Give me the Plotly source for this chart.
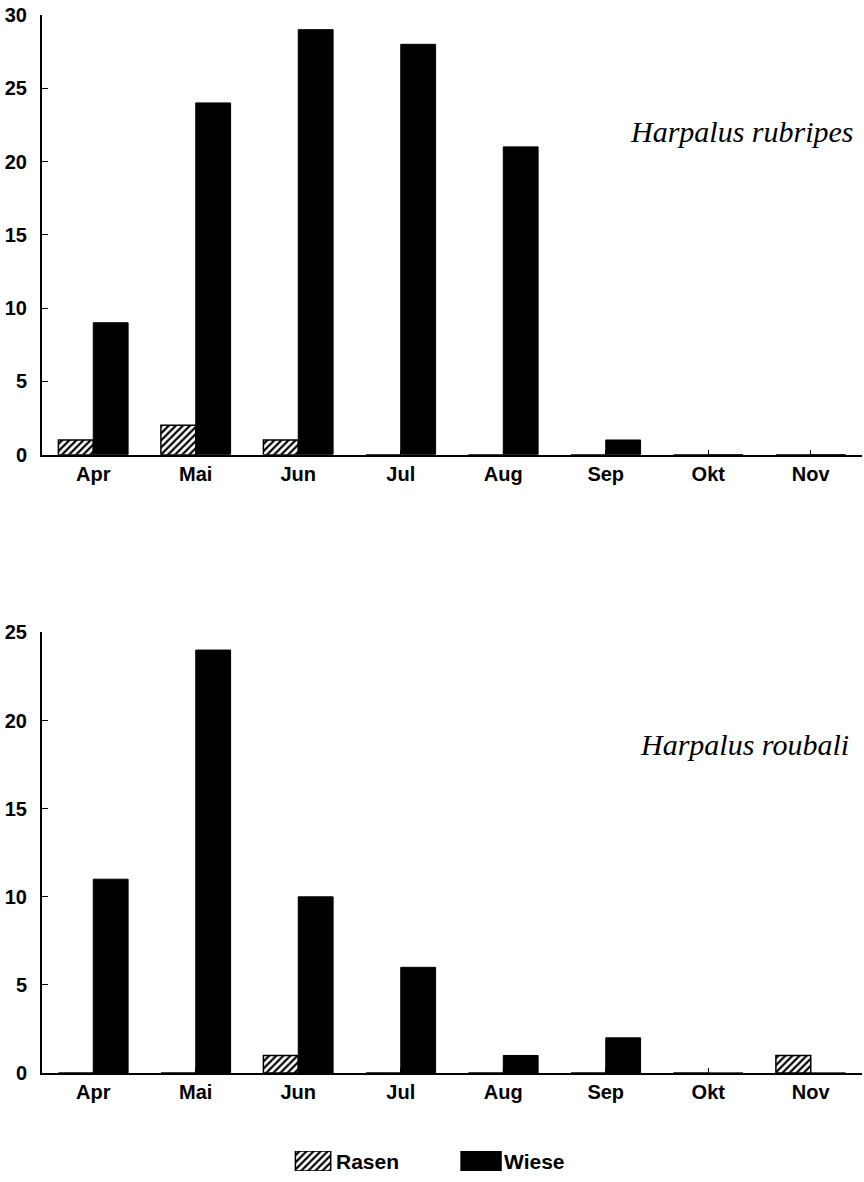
import plotly.graph_objects as go

months = ["Apr", "Mai", "Jun", "Jul", "Aug", "Sep", "Okt", "Nov"]
rubripes_rasen = [1, 2, 1, 0, 0, 0, 0, 0]
rubripes_wiese = [9, 24, 29, 28, 21, 1, 0, 0]
roubali_rasen = [0, 0, 1, 0, 0, 0, 0, 1]
roubali_wiese = [11, 24, 10, 6, 1, 2, 0, 0]
top_ticks = [0, 5, 10, 15, 20, 25, 30]
bottom_ticks = [0, 5, 10, 15, 20, 25]
titles = ["Harpalus rubripes", "Harpalus roubali"]
legend_labels = ["Rasen", "Wiese"]
legend_swatch = [1, 1]

rasen_marker = dict(color="white", line=dict(color="black", width=1.5),
                    pattern=dict(shape="/", fgcolor="black", bgcolor="white",
                                 size=5, solidity=0.45, fillmode="replace"))
wiese_marker = dict(color="black", line=dict(color="black", width=1))

fig = go.Figure()
fig.add_trace(go.Bar(x=months, y=rubripes_rasen, name="Rasen", marker=rasen_marker,
                     xaxis="x", yaxis="y"))
fig.add_trace(go.Bar(x=months, y=rubripes_wiese, name="Wiese", marker=wiese_marker,
                     xaxis="x", yaxis="y"))
fig.add_trace(go.Bar(x=months, y=roubali_rasen, name="Rasen", marker=rasen_marker,
                     xaxis="x2", yaxis="y2"))
fig.add_trace(go.Bar(x=months, y=roubali_wiese, name="Wiese", marker=wiese_marker,
                     xaxis="x2", yaxis="y2"))
# legend swatches
fig.add_trace(go.Bar(x=legend_labels[:1], y=legend_swatch[:1], width=[0.21],
                     marker=rasen_marker, xaxis="x3", yaxis="y3", offsetgroup="a"))
fig.add_trace(go.Bar(x=legend_labels[1:], y=legend_swatch[1:], width=[0.24],
                     marker=wiese_marker, xaxis="x3", yaxis="y3", offsetgroup="a"))

tickfont = dict(family="Liberation Sans", size=20, color="black", weight="bold")
xfont = dict(family="Liberation Sans", size=20, color="black", weight="bold")

def xax(anchor):
    return dict(range=[-0.5, 7.5], showline=True, linecolor="black", linewidth=2,
                ticks="inside", ticklen=5, tickcolor="black", tickfont=xfont,
                showgrid=False, zeroline=False, anchor=anchor, domain=[0, 1])

def yax(rng, tv, dom, anchor):
    return dict(range=list(rng), tickvals=tv, showline=True, linecolor="black",
                linewidth=2, ticks="inside", ticklen=6, tickcolor="black",
                tickfont=tickfont, showgrid=False, zeroline=False,
                ticklabelstandoff=9, domain=dom, anchor=anchor)

fig.update_layout(
    xaxis=xax("y"),
    yaxis=yax((0, 30), top_ticks, [0.6197, 1], "x"),
    xaxis2=xax("y2"),
    yaxis2=yax((0, 25), bottom_ticks, [0.0847, 0.4659], "x2"),
    xaxis3=dict(domain=[0.2281, 0.6379], range=[-0.5, 1.5], visible=False,
                anchor="y3", fixedrange=True),
    yaxis3=dict(domain=[0.0, 0.0173], range=[0, 1], visible=False,
                anchor="x3", fixedrange=True),
)

title_font = dict(family="Liberation Serif", size=30, color="black", style="italic")
fig.add_annotation(text=titles[0], xref="x domain", yref="y domain", x=0.715, y=0.735,
                   xanchor="left", yanchor="middle", showarrow=False, font=title_font)
fig.add_annotation(text=titles[1], xref="x2 domain", yref="y2 domain", x=0.727, y=0.745,
                   xanchor="left", yanchor="middle", showarrow=False, font=title_font)

leg_font = dict(family="Liberation Sans", size=21, color="black", weight="bold")
for lab in legend_labels:
    fig.add_annotation(text=lab, xref="x3", yref="y3", x=lab, y=0.5, xshift=21,
                       xanchor="left", yanchor="middle", showarrow=False, font=leg_font)

fig.update_layout(
    width=864, height=1182,
    margin=dict(l=42, r=2, t=15, b=0),
    paper_bgcolor="white", plot_bgcolor="white",
    barmode="group", bargap=0.32, bargroupgap=0,
    showlegend=False,
)

fig.write_html("out.html", config={"displayModeBar": False},
               post_script="document.body.style.margin='0';document.body.style.overflow='hidden';")
